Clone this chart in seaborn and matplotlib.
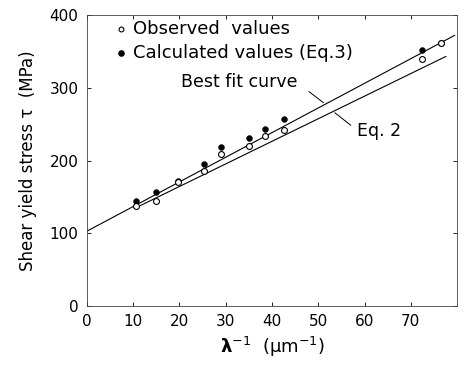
import matplotlib
matplotlib.use("Agg")
import matplotlib.pyplot as plt
import seaborn as sns
import numpy as np
import pandas as pd

# Data
inv_lambda = [10.5, 15.0, 19.6, 25.4, 29.0, 35.1, 38.5, 42.6, 72.4, 76.6]
observed = [137, 144, 171, 185, 209, 220, 234, 242, 339, 361]
calculated = [145, 157, 172, 195, 219, 231, 243, 257, 352, 362]

best_fit_x = [0, 79.5]
best_fit_y = [103, 372]
eq2_x = [11.5, 77.6]
eq2_y = [138, 343]

x_ticks = [0, 10, 20, 30, 40, 50, 60, 70]
y_ticks = [0, 100, 200, 300, 400]

sns.set_theme(style="ticks")
plt.rcParams['font.family'] = ['DejaVu Sans']
plt.rcParams['text.color'] = 'black'
plt.rcParams['axes.labelcolor'] = 'black'

fig = plt.figure(figsize=(4.65, 3.72), dpi=100)
ax = fig.add_axes([0.187, 0.177, 0.796, 0.783])

df_line1 = pd.DataFrame({"x": best_fit_x, "y": best_fit_y})
df_line2 = pd.DataFrame({"x": eq2_x, "y": eq2_y})
sns.lineplot(data=df_line1, x="x", y="y", ax=ax, color="black", lw=0.8)
sns.lineplot(data=df_line2, x="x", y="y", ax=ax, color="black", lw=0.8)

df = pd.DataFrame({"x": inv_lambda, "obs": observed, "calc": calculated})
sns.scatterplot(data=df, x="x", y="calc", ax=ax, color="black", s=18,
                edgecolor="black", zorder=3)
sns.scatterplot(data=df, x="x", y="obs", ax=ax, facecolor="white", s=18,
                edgecolor="black", linewidth=0.8, zorder=4)

ax.set_xlim(0, 80)
ax.set_ylim(0, 400)
ax.set_xticks(x_ticks)
ax.set_yticks(y_ticks)
ax.tick_params(direction="in", top=True, right=True, length=3, width=0.6,
               labelsize=11, colors="black", pad=6)
for s in ax.spines.values():
    s.set_linewidth(0.6)
    s.set_color("#444444")

ax.set_xlabel(r"$\mathbf{\lambda}^{-1}$  ($\mathrm{\mu m^{-1}}$)", fontsize=13, labelpad=4)
ax.set_ylabel("Shear yield stress τ  (MPa)", fontsize=12, labelpad=9)

# Legend-like text
ax.scatter([7.3], [381], s=12, facecolor="white", edgecolor="black", linewidth=0.8)
ax.text(10.0, 381, "Observed  values", fontsize=13, va="center")
ax.scatter([7.3], [347], s=14, color="black")
ax.text(10.0, 347, "Calculated values (Eq.3)", fontsize=13, va="center")

ax.text(33, 308, "Best fit curve", fontsize=12.5, ha="center", va="center")
ax.annotate("", xy=(51.6, 277), xytext=(47.5, 297),
            arrowprops=dict(arrowstyle="-", lw=0.7, color="black"))
ax.text(58.3, 240, "Eq. 2", fontsize=12.5, va="center")
ax.annotate("", xy=(53.1, 268), xytext=(57.5, 246),
            arrowprops=dict(arrowstyle="-", lw=0.7, color="black"))

fig.savefig("out.png", dpi=100)
